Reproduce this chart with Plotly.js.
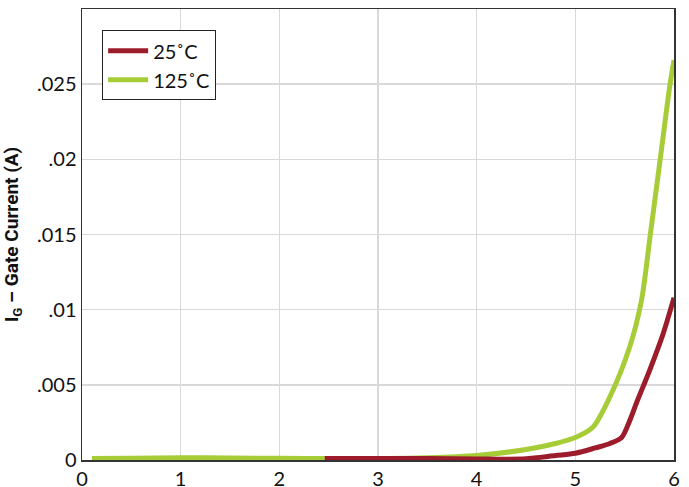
<!DOCTYPE html>
<html><head><meta charset="utf-8">
<script src="https://cdn.plot.ly/plotly-3.0.1.min.js"></script>
<style>html,body{margin:0;padding:0;background:#fff;}#chart{width:689px;height:487px;}</style>
</head><body><div id="chart"></div>
<script>
const vgs25 = [2.46, 3.0, 3.5, 4.0, 4.3, 4.5, 4.8, 5.0, 5.2, 5.35, 5.47, 5.55, 5.62, 5.755, 5.89, 6.0];
const ig25 = [0.0001, 0.0001, 0.0001, 0.00007, 0.00005, 0.00008, 0.0003, 0.00045, 0.0008, 0.0011, 0.0015, 0.0026, 0.0038, 0.0060, 0.0084, 0.0108];
const vgs125 = [0.1, 0.5, 1.0, 1.5, 2.0, 2.5, 3.0, 3.5, 4.0, 4.5, 4.8, 5.0, 5.18, 5.35, 5.55, 5.67, 5.76, 5.86, 5.96, 6.0];
const ig125 = [0.0001, 0.00012, 0.00015, 0.00014, 0.00011, 0.0001, 0.0001, 0.00015, 0.0003, 0.0007, 0.0011, 0.0015, 0.0022, 0.0042, 0.0075, 0.0106, 0.015, 0.020, 0.025, 0.0266];
const xTicks = [0, 1, 2, 3, 4, 5, 6];
const yTickVals = [0, 0.005, 0.01, 0.015, 0.02, 0.025, 0.03];
const yTickText = ['0', '.005', '.01', '.015', '.02', '.025', '.03'];

const font = "Lato, 'Open Sans', sans-serif";
const titleFont = "Roboto, Lato, sans-serif";
const traces = [
  {x: vgs125, y: ig125, name: '125˚C', mode: 'lines', line: {color: '#a6cd37', width: 5, shape: 'spline', smoothing: 0.8}},
  {x: vgs25, y: ig25, name: '25˚C', mode: 'lines', line: {color: '#9c1c2b', width: 5, shape: 'spline', smoothing: 0.8}}
];
const layout = {
  width: 689, height: 487,
  margin: {l: 82, r: 15, t: 9, b: 27},
  paper_bgcolor: '#fff', plot_bgcolor: '#fff',
  font: {family: font, size: 20, color: '#111'},
  showlegend: true,
  legend: {x: 0.034, y: 0.953, xanchor: 'left', yanchor: 'top', traceorder: 'reversed',
           bordercolor: '#222', borderwidth: 1, bgcolor: '#fff',
           font: {family: font, size: 20, color: '#111'}, tracegroupgap: 0, itemwidth: 40},
  xaxis: {range: [0, 6], tickvals: xTicks, ticktext: xTicks.map(String), showgrid: true, gridcolor: '#d9d9d9', gridwidth: 1.5,
          showline: true, linecolor: '#333', linewidth: 1.5, mirror: true, zeroline: false, ticks: '', ticklen: 0,
          tickfont: {family: font, size: 20, color: '#111'}},
  yaxis: {range: [0, 0.03], tickvals: yTickVals, ticktext: yTickText, showgrid: true, gridcolor: '#d9d9d9', gridwidth: 1.5,
          showline: true, linecolor: '#333', linewidth: 1.5, mirror: true, zeroline: false, ticks: '', ticklen: 0,
          tickfont: {family: font, size: 20, color: '#111'},
          title: {text: '<b>I<sub>G</sub> – Gate Current (A)</b>', font: {family: titleFont, size: 19, color: '#111'}, standoff: 14}}
};
Plotly.newPlot('chart', traces, layout, {displayModeBar: false, staticPlot: true});
</script></body></html>
